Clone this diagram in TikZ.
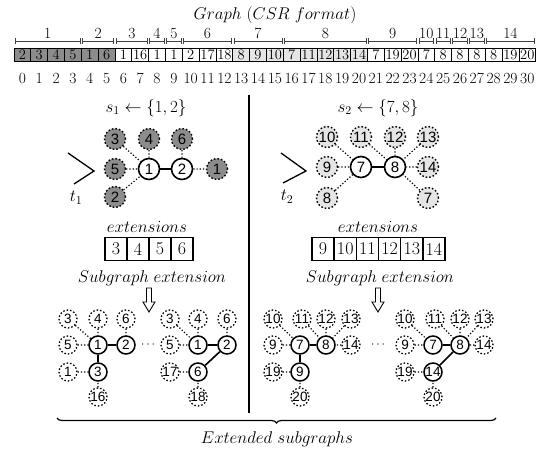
\RequirePackage{fix-cm}
\documentclass[tikz,border=0pt]{standalone}
\usepackage{fontspec}
\newfontfamily\nodefont{Liberation Sans}
\usetikzlibrary{decorations.pathreplacing}
\definecolor{dk}{gray}{0.55}
\definecolor{lt}{gray}{0.9}
\definecolor{wh}{gray}{1}
\begin{document}
\begin{tikzpicture}[x=1pt,y=-1pt,
  cell/.style={draw, line width=0.7pt, minimum width=16.83pt, minimum height=13.5pt, inner sep=0pt, font=\fontsize{14.5}{14.5}\selectfont},
  idx/.style={inner sep=0pt, anchor=base, font=\fontsize{15.5}{15.5}\selectfont},
  grp/.style={inner sep=0pt, anchor=base, font=\fontsize{15.5}{15.5}\selectfont},
  bar/.style={line width=0.8pt, black!75},
  lbl/.style={inner sep=0pt, font=\fontsize{17}{17}\selectfont},
  ecell/.style={draw, line width=1.6pt, minimum width=22pt, minimum height=23pt, inner sep=0pt, font=\fontsize{18}{18}\selectfont},
  big/.style={circle, draw, line width=1.6pt, minimum size=21pt, inner sep=0pt, fill=white, font=\nodefont\fontsize{15}{15}\selectfont},
  dkn/.style={big, dotted, fill=dk, line width=1.4pt},
  ltn/.style={big, dotted, fill=lt, line width=1.4pt},
  sm/.style={circle, draw, line width=1.5pt, minimum size=18pt, inner sep=0pt, fill=white, font=\nodefont\fontsize{13.5}{13.5}\selectfont},
  smd/.style={sm, dotted, line width=1.3pt},
  dedge/.style={dotted, line width=1.2pt},
  sedge/.style={line width=1.6pt},
  brk/.style={line width=1.3pt}
]
\useasboundingbox (0,0) rectangle (538,449);

% title
\node[lbl] (title) at (275,15) {$Graph\ (CSR\ format)$};

% CSR array
\foreach \v/\f [count=\i from 0] in {2/dk,3/dk,4/dk,5/dk,1/dk,6/dk,1/wh,16/wh,1/wh,1/wh,2/wh,17/wh,18/wh,8/lt,9/lt,10/lt,7/lt,11/lt,12/lt,13/lt,14/lt,7/wh,19/wh,20/wh,7/wh,8/wh,8/wh,8/wh,8/wh,19/wh,20/wh}{
  \node[cell, fill=\f] (c\i) at ({14+16.83*(\i+0.5)},55) {\v};
  \node[idx] (i\i) at ({14+16.83*(\i+0.5)},83.5) {\i};
}
% vertex groups
\foreach \a/\b/\l in {0/3/1,4/5/2,6/7/3,8/8/4,9/9/5,10/12/6,13/15/7,16/20/8,21/23/9,24/24/10,25/25/11,26/26/12,27/27/13,28/30/14}{
  \pgfmathsetmacro\xl{14+16.83*\a+1.2}
  \pgfmathsetmacro\xr{14+16.83*(\b+1)-1.2}
  \draw[bar] (\xl,38) -- (\xl,44) (\xl,41) -- (\xr,41) (\xr,38) -- (\xr,44);
  \node[grp] (g\l) at ({(\xl+\xr)/2},39) {\l};
}

% divider
\draw[line width=1.5pt] (249,95) -- (249,413);

% ---------- left top ----------
\node[lbl] (s1) at (146,108) {$s_1 \leftarrow \{1,2\}$};
\draw[brk] (68,153) -- (94,171) -- (74,184);
\node[lbl] (t1) at (76,198) {$t_1$};
\node[big] (a1) at (149,169) {1};
\node[big] (a2) at (182,169) {2};
\node[dkn] (a3) at (115,139) {3};
\node[dkn] (a4) at (149,139) {4};
\node[dkn] (a6) at (182,139) {6};
\node[dkn] (a5) at (115,169) {5};
\node[dkn] (a1r) at (217,169) {1};
\node[dkn] (a2b) at (115,197) {2};
\draw[sedge] (a1) -- (a2);
\draw[dedge] (a3) -- (a1) (a4) -- (a1) (a5) -- (a1) (a2b) -- (a1) (a6) -- (a2) (a2) -- (a1r);

\node[lbl] (ext1) at (147,227) {$extensions$};
\foreach \v [count=\k from 0] in {3,4,5,6}{
  \node[ecell] (e\v) at ({105+11+22*\k},249) {\v};
}
\node[lbl] (sub1) at (152,278) {$Subgraph\;extension$};
\draw[line width=0.9pt] (146.5,288) -- (151.5,288) -- (151.5,302) -- (155,302) -- (149,312) -- (143,302) -- (146.5,302) -- cycle;

% ---------- right top ----------
\node[lbl] (s2) at (378,108) {$s_2 \leftarrow \{7,8\}$};
\draw[brk] (281,153) -- (306,171) -- (283,183);
\node[lbl] (t2) at (287,197) {$t_2$};
\node[big] (b7) at (361,167) {7};
\node[big] (b8) at (395,167) {8};
\node[ltn] (b10) at (327,137) {10};
\node[ltn] (b11) at (361,137) {11};
\node[ltn] (b12) at (395,137) {12};
\node[ltn] (b13) at (428,137) {13};
\node[ltn] (b9) at (327,167) {9};
\node[ltn] (b14) at (428,167) {14};
\node[ltn] (b8b) at (327,198) {8};
\node[ltn] (b7b) at (428,198) {7};
\draw[sedge] (b7) -- (b8);
\draw[dedge] (b10) -- (b7) (b9) -- (b7) (b8b) -- (b7) (b11) -- (b8) (b12) -- (b8) (b13) -- (b8) (b14) -- (b8) (b7b) -- (b8);

\node[lbl] (ext2) at (378,227) {$extensions$};
\foreach \v [count=\k from 0] in {9,10,11,12,13,14}{
  \node[ecell, minimum width=22.17pt] (f\v) at ({312+11.08+22.17*\k},249) {\v};
}
\node[lbl] (sub2) at (380,278) {$Subgraph\;extension$};
\draw[line width=0.9pt] (375.5,288) -- (380.5,288) -- (380.5,302) -- (384,302) -- (378,312) -- (372,302) -- (375.5,302) -- cycle;

% ---------- bottom graphs ----------
% A
\node[smd] (A3) at (68,319) {3};
\node[smd] (A4) at (98,319) {4};
\node[smd] (A6) at (126,319) {6};
\node[smd] (A5) at (68,345) {5};
\node[sm] (A1) at (98,345) {1};
\node[sm] (A2) at (126,345) {2};
\node[smd] (A1b) at (68,372) {1};
\node[sm] (A3s) at (98,372) {3};
\node[smd] (A16) at (98,397) {16};
\draw[sedge] (A1) -- (A2) (A1) -- (A3s);
\draw[dedge] (A3) -- (A1) (A4) -- (A1) (A5) -- (A1) (A6) -- (A2) (A1b) -- (A3s) (A16) -- (A3s);
\node[inner sep=0pt, font=\fontsize{12}{12}\selectfont] (dots1) at (148,345) {$\cdots$};
% B
\node[smd] (B3) at (170,319) {3};
\node[smd] (B4) at (198,319) {4};
\node[smd] (B6) at (227,319) {6};
\node[smd] (B5) at (170,345) {5};
\node[sm] (B1) at (198,345) {1};
\node[sm] (B2) at (227,345) {2};
\node[smd] (B17) at (170,372) {17};
\node[sm] (B6s) at (198,372) {6};
\node[smd] (B18) at (198,397) {18};
\draw[sedge] (B1) -- (B2) (B2) -- (B6s);
\draw[dedge] (B3) -- (B1) (B4) -- (B1) (B5) -- (B1) (B6) -- (B2) (B17) -- (B6s) (B18) -- (B6s);
% C
\node[smd] (C10) at (273,319) {10};
\node[smd] (C11) at (302,319) {11};
\node[smd] (C12) at (326,319) {12};
\node[smd] (C13) at (351,319) {13};
\node[smd] (C9) at (273,345) {9};
\node[sm] (C7) at (300,345) {7};
\node[sm] (C8) at (326,345) {8};
\node[smd] (C14) at (351,345) {14};
\node[smd] (C19) at (273,372) {19};
\node[sm] (C9s) at (300,372) {9};
\node[smd] (C20) at (300,397) {20};
\draw[sedge] (C7) -- (C8) (C7) -- (C9s);
\draw[dedge] (C10) -- (C7) (C9) -- (C7) (C11) -- (C8) (C12) -- (C8) (C13) -- (C8) (C14) -- (C8) (C19) -- (C9s) (C20) -- (C9s);
\node[inner sep=0pt, font=\fontsize{12}{12}\selectfont] (dots2) at (378,345) {$\cdots$};
% D
\node[smd] (D10) at (405,319) {10};
\node[smd] (D11) at (435,319) {11};
\node[smd] (D12) at (460,319) {12};
\node[smd] (D13) at (484,319) {13};
\node[smd] (D9) at (405,345) {9};
\node[sm] (D7) at (433,345) {7};
\node[sm] (D8) at (460,345) {8};
\node[smd] (D14) at (484,345) {14};
\node[smd] (D19) at (405,372) {19};
\node[sm] (D14s) at (433,372) {14};
\node[smd] (D20) at (433,397) {20};
\draw[sedge] (D7) -- (D8) (D8) -- (D14s);
\draw[dedge] (D10) -- (D7) (D9) -- (D7) (D11) -- (D8) (D12) -- (D8) (D13) -- (D8) (D14) -- (D8) (D19) -- (D14s) (D20) -- (D14s);

% bottom brace
\coordinate (bl) at (57,418);
\coordinate (br) at (496,418);
\draw[line width=1.2pt, decorate, decoration={brace, amplitude=5pt, mirror}] (bl) -- (br);
\node[lbl] (extsub) at (277,439) {$Extended\ subgraphs$};
\end{tikzpicture}
\end{document}
